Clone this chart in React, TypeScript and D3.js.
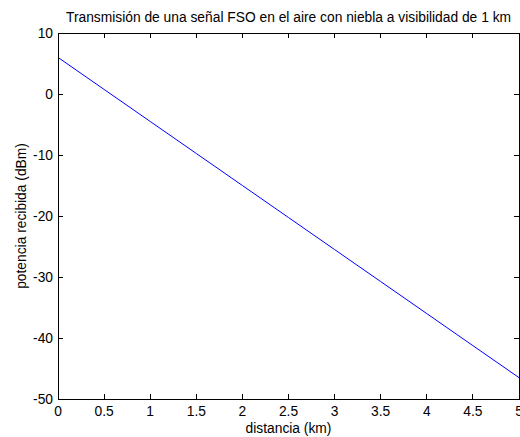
import { useEffect, useRef } from "react";
import * as d3 from "d3";

// distancia (km) vs potencia recibida (dBm)
const distances = [0, 0.5, 1, 1.5, 2, 2.5, 3, 3.5, 4, 4.5, 5];
const power = [6, 0.75, -4.5, -9.75, -15, -20.25, -25.5, -30.75, -36, -41.25, -46.5];

const xTicks = [0, 0.5, 1, 1.5, 2, 2.5, 3, 3.5, 4, 4.5, 5];
const yTicks = [10, 0, -10, -20, -30, -40, -50];

const title = "Transmisión de una señal FSO en el aire con niebla a visibilidad de 1 km";
const xLabel = "distancia (km)";
const yLabel = "potencia recibida (dBm)";

const W = 520;
const H = 437;
const margin = { top: 33, right: 1, bottom: 38, left: 58 };

const drawChart = (svgEl: SVGSVGElement) => {
  const svg = d3.select(svgEl);
  svg.selectAll("*").remove();

  const x = d3.scaleLinear().domain([0, 5]).range([margin.left, W - margin.right]);
  const y = d3.scaleLinear().domain([-50, 10]).range([H - margin.bottom, margin.top]);

  const font = "Liberation Sans, Arial, sans-serif";
  const fs = "13.8px";
  const tickLen = 5;

  svg.append("rect").attr("width", W).attr("height", H).attr("fill", "#fff");

  // data line
  const pts = distances.map((d, i) => [d, power[i]] as [number, number]);
  svg
    .append("path")
    .datum(pts)
    .attr("fill", "none")
    .attr("stroke", "#0000ff")
    .attr("stroke-width", 1)
    .attr(
      "d",
      d3
        .line<[number, number]>()
        .x((d) => x(d[0]))
        .y((d) => y(d[1]))
    );

  const g = svg.append("g").attr("stroke", "#000").attr("stroke-width", 1).attr("shape-rendering", "crispEdges");

  // box
  g.append("rect")
    .attr("x", x(0))
    .attr("y", y(10))
    .attr("width", x(5) - x(0))
    .attr("height", y(-50) - y(10))
    .attr("fill", "none");

  // ticks on all sides, pointing in
  xTicks.forEach((t) => {
    g.append("line").attr("x1", x(t)).attr("x2", x(t)).attr("y1", y(-50)).attr("y2", y(-50) - tickLen);
    g.append("line").attr("x1", x(t)).attr("x2", x(t)).attr("y1", y(10)).attr("y2", y(10) + tickLen);
  });
  yTicks.forEach((t) => {
    g.append("line").attr("x1", x(0)).attr("x2", x(0) + tickLen).attr("y1", y(t)).attr("y2", y(t));
    g.append("line").attr("x1", x(5)).attr("x2", x(5) - tickLen).attr("y1", y(t)).attr("y2", y(t));
  });

  // tick labels
  svg
    .append("g")
    .selectAll("text")
    .data(xTicks)
    .enter()
    .append("text")
    .attr("x", (d) => x(d))
    .attr("y", y(-50) + 17)
    .attr("text-anchor", "middle")
    .style("font-family", font)
    .style("font-size", fs)
    .text((d) => String(d));

  svg
    .append("g")
    .selectAll("text")
    .data(yTicks)
    .enter()
    .append("text")
    .attr("x", x(0) - 5)
    .attr("y", (d) => y(d) + 5)
    .attr("text-anchor", "end")
    .style("font-family", font)
    .style("font-size", fs)
    .text((d) => String(d));

  svg
    .append("text")
    .attr("x", (x(0) + x(5)) / 2)
    .attr("y", 22)
    .attr("text-anchor", "middle")
    .style("font-family", font)
    .style("font-size", fs)
    .text(title);

  svg
    .append("text")
    .attr("x", (x(0) + x(5)) / 2)
    .attr("y", 433)
    .attr("text-anchor", "middle")
    .style("font-family", font)
    .style("font-size", fs)
    .text(xLabel);

  svg
    .append("text")
    .attr("transform", `translate(26,${(y(10) + y(-50)) / 2}) rotate(-90)`)
    .attr("text-anchor", "middle")
    .style("font-family", font)
    .style("font-size", fs)
    .text(yLabel);
};

const App = () => {
  const svgRef = useRef<SVGSVGElement>(null);

  useEffect(() => {
    if (svgRef.current) drawChart(svgRef.current);
  }, []);

  return (
    <div style={{ position: "absolute", left: 0, top: 0 }}>
      <svg ref={svgRef} width={W} height={H} style={{ display: "block" }}></svg>
    </div>
  );
};

export default App;
